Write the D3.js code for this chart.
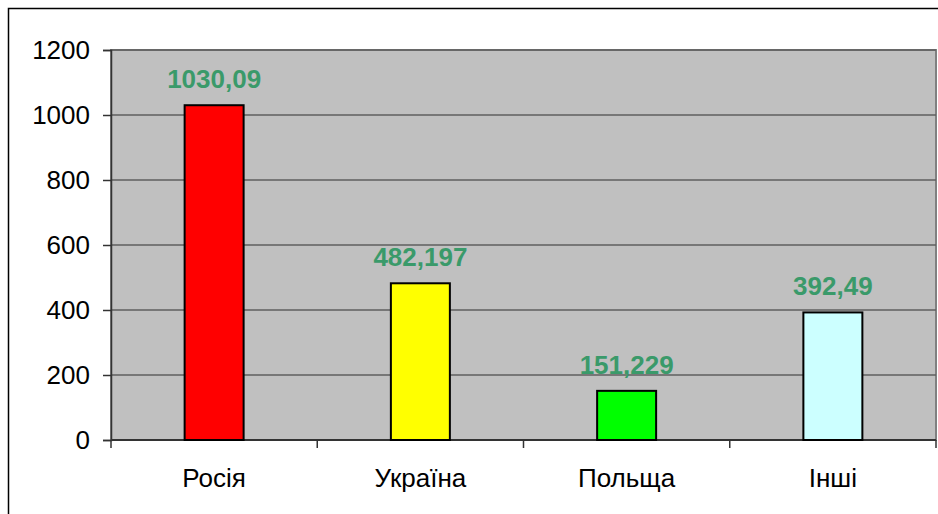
<!DOCTYPE html>
<html>
<head>
<meta charset="utf-8">
<script src="https://cdn.jsdelivr.net/npm/d3@7"></script>
<style>
  body { margin: 0; background: #fff; }
  text { font-family: "Liberation Sans", Arial, sans-serif; }
</style>
</head>
<body>
<div id="chart"></div>
<script>
// data
var categories = ["Росія", "Україна", "Польща", "Інші"];
var values = [1030.09, 482.197, 151.229, 392.49];
var valueLabels = ["1030,09", "482,197", "151,229", "392,49"];
var barColors = ["#ff0000", "#ffff00", "#00ff00", "#ccffff"];
var yTicks = [0, 200, 400, 600, 800, 1000, 1200];

var svgWidth = 938;
var svgHeight = 514;

var margin = { top: 50, right: 2, bottom: 74, left: 111 };
var width = svgWidth - margin.left - margin.right;
var height = svgHeight - margin.top - margin.bottom;

var svg = d3.select("#chart")
  .append("svg")
  .attr("width", svgWidth)
  .attr("height", svgHeight);

// outer chart border
svg.append("rect")
  .attr("x", 8.5)
  .attr("y", 8.5)
  .attr("width", 940)
  .attr("height", 520)
  .attr("fill", "#fff")
  .attr("stroke", "#000")
  .attr("stroke-width", 1.5);

var g = svg.append("g")
  .attr("transform", `translate(${margin.left}, ${margin.top})`);

var xScale = d3.scaleBand()
  .domain(categories)
  .range([0, width])
  .paddingInner(0.714)
  .paddingOuter(0.357);

var yScale = d3.scaleLinear()
  .domain([0, 1200])
  .range([height, 0]);

// plot area
g.append("rect")
  .attr("width", width)
  .attr("height", height)
  .attr("fill", "#c0c0c0")
  .attr("stroke", "#808080")
  .attr("stroke-width", 2);

// gridlines
g.selectAll("line.grid")
  .data(yTicks.filter(d => d > 0))
  .enter()
  .append("line")
  .attr("class", "grid")
  .attr("x1", 0)
  .attr("x2", width)
  .attr("y1", d => yScale(d))
  .attr("y2", d => yScale(d))
  .attr("stroke", "#5f5f5f")
  .attr("stroke-width", 1.5);

// y axis
var yAxis = g.append("g")
  .call(d3.axisLeft(yScale).tickValues(yTicks).tickFormat(d3.format("d")).tickSize(8).tickPadding(13));
yAxis.select(".domain").attr("stroke", "#333").attr("stroke-width", 1.5);
yAxis.selectAll(".tick line").attr("stroke", "#333").attr("stroke-width", 1.5);
yAxis.selectAll("text")
  .attr("font-size", 26)
  .attr("fill", "#000")
  .style("font-family", "'Liberation Sans', Arial, sans-serif");

// x axis: ticks on category boundaries
var xAxisG = g.append("g")
  .attr("transform", `translate(0, ${height})`);
xAxisG.append("line")
  .attr("x1", 0)
  .attr("x2", width)
  .attr("stroke", "#333")
  .attr("stroke-width", 2);
var step = width / categories.length;
xAxisG.selectAll("line.tk")
  .data(d3.range(categories.length + 1))
  .enter()
  .append("line")
  .attr("class", "tk")
  .attr("x1", d => d * step)
  .attr("x2", d => d * step)
  .attr("y1", 0)
  .attr("y2", 8)
  .attr("stroke", "#333")
  .attr("stroke-width", 1.5);
xAxisG.selectAll("text")
  .data(categories)
  .enter()
  .append("text")
  .attr("x", d => xScale(d) + xScale.bandwidth() / 2)
  .attr("y", 47)
  .attr("text-anchor", "middle")
  .attr("font-size", 26)
  .attr("fill", "#000")
  .text(d => d);

// bars
g.selectAll("rect.bar")
  .data(values)
  .enter()
  .append("rect")
  .attr("class", "bar")
  .attr("x", (d, i) => xScale(categories[i]))
  .attr("y", d => yScale(d))
  .attr("width", xScale.bandwidth())
  .attr("height", d => height - yScale(d))
  .attr("fill", (d, i) => barColors[i])
  .attr("stroke", "#000")
  .attr("stroke-width", 2);

// value labels
g.selectAll("text.val")
  .data(values)
  .enter()
  .append("text")
  .attr("class", "val")
  .attr("x", (d, i) => xScale(categories[i]) + xScale.bandwidth() / 2)
  .attr("y", d => yScale(d) - 17)
  .attr("text-anchor", "middle")
  .attr("font-size", 26)
  .attr("font-weight", "bold")
  .attr("fill", "#3a9a6a")
  .text((d, i) => valueLabels[i]);
</script>
</body>
</html>
